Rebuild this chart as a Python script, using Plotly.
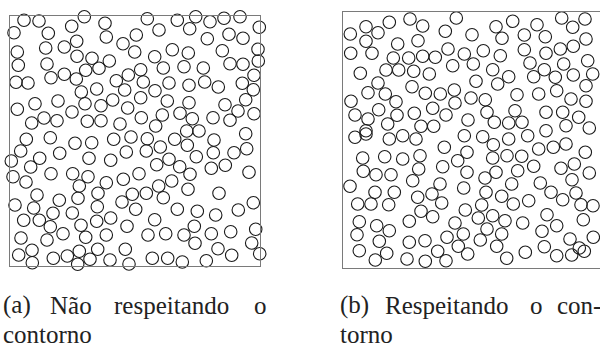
import plotly.graph_objects as go

# Circle centres (pixel units inside each square domain, y measured downward)
left_x = [14, 29, 74.3, 4, 61.7, 95, 38.3, 96.3, 126.3, 66.7, 54.3, 35.7, 113, 124.7, 7.3, 67, 82, 99.3,
          8.3, 37, 75.7, 89, 54.3, 41, 66.3, 118.3, 106.3, 6, 18, 86.7, 71.3, 114.7, 48, 25, 75, 91, 102.7,
          7.3, 62, 117.7, 34, 21.7, 47, 77.3, 91, 110,
          137.3, 167.3, 185.7, 200, 214, 230, 179.7, 149, 249.3, 197.3, 219, 233, 162.3, 178.3, 212.3, 248,
          144.7, 248.3, 220, 233, 130.7, 153.3, 174, 193.3, 244, 133.3, 159, 179, 194.7, 208.3, 232.3, 243.3,
          145, 130.7, 157.3, 179, 235.7, 215, 228, 244, 131.3, 152.3, 170, 182.3, 203, 220, 145.7, 176.7, 189,
          235.7,
          16.3, 40.3, 65, 81.7, 103.7, 121, 10.7, 1.3, 29.7, 49.7, 79, 100.7, 116.3, 20.7, 3, 16, 41, 62.7, 78,
          69.3, 96.3, 113.3, 27, 88, 122.3, 5, 23.7, 49.3, 68, 87.3, 112, 43, 62.3, 125.7, 13.7, 29.3, 40.3, 71,
          86.7, 100.7, 117, 53, 75.7, 96.3, 11, 37, 22, 8.7, 43.3, 57.3, 69.3, 87.7, 115.3, 22.3, 67.7, 80, 100,
          119,
          137.3, 164.7, 204, 136.3, 150.3, 177.3, 203.3, 224, 236.7, 186.3, 159, 146.7, 169.7, 201.3, 215.3, 129,
          180, 239, 161.7, 148.7, 178, 136.3, 153.3, 209, 243.3, 167.3, 187.3, 205.7, 228.3, 144.7, 184.3, 138,
          155.7, 174, 201.3, 220.7, 245.7, 185, 241.7, 208, 249.7, 142.3, 157.7, 172.3, 196.3, 221.7]
left_y = [4.3, 5, 0.7, 16.7, 10.3, 7.3, 17.3, 21, 19, 25.3, 31, 32, 27.7, 36, 36, 40.3, 42.3, 45,
          49.3, 48, 54.3, 52.3, 58.3, 61.7, 63, 59, 64.7, 66.3, 67, 73, 76, 74, 85, 87.7, 87.7, 89.7, 84,
          93.3, 96, 92, 102, 107, 104.7, 105.3, 104.7, 108,
          2.7, 4.3, 0.7, 5.7, 2.3, 0.7, 12.7, 14, 11.3, 22.7, 18.3, 22.3, 33.7, 37, 34.7, 33.3,
          40.7, 45, 47.7, 48.3, 53.7, 52, 50.7, 52, 59.3, 66, 67, 69.3, 66, 71, 67.3, 73.7,
          74.7, 81.7, 85, 86.7, 83.7, 88.7, 95, 97.7, 101.7, 99, 97.3, 102.7, 101.7, 104.3, 110, 115, 115,
          117.7,
          123.3, 121.7, 127.3, 126.7, 123.3, 121, 135, 145, 142.3, 137.3, 142.3, 144.3, 136, 151, 160.7, 166,
          157.7, 157.7, 160.7, 170, 166.7, 163.3, 179, 177.3, 178.3, 189, 192, 184.3, 182.3, 190.7, 186, 197.3,
          197, 193.3, 204.3, 204.3, 210.7, 209.3, 205.3, 202, 210.3, 217.7, 221.3, 219, 222, 224, 234.3, 239,
          242.3, 240, 235.3, 233.3, 233.3, 246.7, 248.3, 243.3, 244, 248,
          122.7, 123.3, 124, 135, 131, 129.3, 136.7, 136.7, 132.7, 140.7, 143.3, 148.7, 150.7, 152.3, 149.3,
          157.7, 158.3, 156.3, 165, 170, 173.3, 177.3, 181.7, 177.3, 186.7, 193.3, 195.3, 199, 194, 203.7,
          210.3, 219, 217.7, 219, 217.7, 215.7, 213.3, 227.3, 227, 232.7, 237.7, 242.3, 242.3, 246, 244.7,
          239.3]

right_x = [7.3, 23, 35, 46.3, 67, 79.7, 102.3, 113.3, 23, 7.7, 29, 54.7, 75, 105, 121.3, 50.3, 65.7, 79.7,
           92.3, 109.7, 17.3, 43, 55.7, 70.7, 86.3, 35, 25, 42.3, 69, 82.3, 97.3, 111.3, 8, 53, 112, 35.7,
           89.7, 71.3, 103, 12, 25, 54, 44.7, 78, 90.7, 125, 23,
           169.7, 153, 194, 218.7, 229.7, 242, 129, 159, 181.3, 202.3, 243, 230.3, 217.3, 140.3, 181.3, 203,
           157.3, 244.7, 130.3, 187, 220.7, 149.7, 201.3, 249.7, 165.7, 190.7, 212.3, 230.3, 133, 154.7, 243,
           174, 195.7, 213.7, 228, 243, 128, 142.3, 172, 203, 219.7, 144, 151.3, 165.7, 179, 235.7, 223,
           246.3, 203,
           12, 23, 46.3, 59.7, 73, 121.3, 101.3, 19.7, 41.7, 59.7, 77, 114.7, 124, 20.3, 33, 48, 75.7, 99.7,
           124, 7, 69.7, 97, 120.7, 32, 51.3, 74.7, 89, 14.7, 28, 45.7, 98.7, 78, 89.7, 122.3, 16.3, 33.7,
           66.3, 112, 46.3, 14, 120.3, 36.3, 66.3, 82, 104, 115.3, 16.3, 43.7, 94.7, 32.3, 64, 82.3, 103,
           124.7,
           139.7, 165.7, 184.7, 150.3, 195.7, 210.3, 223, 242.3, 149.7, 164, 178.7, 190.7, 218, 231.3, 246.3,
           153, 174.7, 142, 168.7, 197.3, 229, 143, 158.7, 208, 233, 170.3, 185.7, 219.7, 238, 250, 138.7,
           204, 149.7, 135.3, 162, 240.3, 179.7, 144, 213.7, 199, 158.7, 137.3, 227, 250.3, 153.7, 201.3,
           236.3, 182.3, 213.7, 228.7, 241.3, 163.7]
right_y = [22, 14.7, 20.7, 10.3, 7, 14, 19.3, 6, 29.3, 41.3, 41.3, 32, 28.7, 37, 42, 46, 46, 44.3,
           45.3, 53.7, 61.3, 58, 58, 59.3, 62, 71, 80.7, 82, 74.7, 81.3, 82, 78, 89.3, 89.7, 91, 97.7,
           96.3, 101.3, 103, 103, 107, 103.3, 112, 114.3, 114.3, 108, 118.7,
           9.3, 14.7, 12.7, 6, 15.3, 7, 22.7, 26.3, 23, 24.7, 27, 34.3, 37, 38.7, 37.7, 41.3,
           43.7, 48.7, 52, 51, 52, 57.7, 57.7, 62, 64.7, 64.7, 65.3, 63, 69.3, 72, 73.7,
           82.7, 82, 78.7, 87, 89.3, 86, 87.7, 98.7, 100.3, 100.3, 100.3, 110.3, 111, 110.3, 105.3, 113.7,
           116, 118.7,
           125.3, 122, 127, 123.7, 127, 123.7, 135.3, 146, 144.7, 147, 143.7, 148.7, 140.3, 159.3, 162.7,
           162.7, 157, 154.7, 160.3, 174.3, 168.7, 172, 176, 180.3, 180.3, 185.3, 182, 192, 192, 192.7, 191,
           199.3, 204.7, 198, 209.7, 213.7, 209.3, 211, 218.7, 222.7, 222, 229.3, 230.3, 228.7, 225.3, 234.3,
           238.7, 241.3, 239.3, 248, 247, 249.3, 248.7, 242,
           124.7, 127, 123.7, 132.7, 137, 135.3, 132, 140.3, 146, 143.7, 144.3, 154.3, 156.3, 152, 161,
           160.3, 158.7, 166, 172, 171, 167.7, 180.3, 184.3, 180.3, 181, 192, 188.7, 187.7, 192.7, 193.7, 193,
           202.7, 203.7, 206, 208.7, 207.7, 211, 217, 213.7, 219.3, 222, 228, 227, 225.3, 234.3, 234.7,
           236, 240.3, 243.7, 243, 239.3, 246.3]

# Caption words (justified lines): text, left x in px, baseline row
caption_words = ["(a)", "Não", "respeitando", "o", "contorno",
                 "(b)", "Respeitando", "o", "con-", "torno"]
caption_x = [2, 48.5, 112.5, 252.5, 2, 338.5, 384.3, 529.3, 556, 338.5]
caption_row = [0, 0, 0, 0, 1, 0, 0, 0, 0, 1]

W, H = 600, 345
ink = "#1a1a1a"
frame = "#7a7a7a"

fig = go.Figure()
marker = dict(symbol="circle-open", size=12.5, color=ink, line=dict(width=1.1, color=ink))
fig.add_trace(go.Scatter(x=left_x, y=left_y, mode="markers", marker=marker,
                         cliponaxis=False, hoverinfo="skip", xaxis="x", yaxis="y"))
fig.add_trace(go.Scatter(x=right_x, y=right_y, mode="markers", marker=marker,
                         cliponaxis=False, hoverinfo="skip", xaxis="x2", yaxis="y2"))

hidden = dict(showgrid=False, zeroline=False, showticklabels=False, ticks="")
fig.update_layout(
    width=W, height=H, margin=dict(l=0, r=0, t=0, b=0),
    paper_bgcolor="white", plot_bgcolor="white", showlegend=False,
    xaxis=dict(domain=[10 / W, 260 / W], range=[0, 250], showline=True, mirror=True,
               linecolor=frame, linewidth=1, **hidden),
    yaxis=dict(domain=[1 - 266 / H, 1 - 16 / H], range=[250, 0], showline=True, mirror=True,
               linecolor=frame, linewidth=1, **hidden),
    xaxis2=dict(domain=[343 / W, 1], range=[0, 257], showline=True, mirror=True,
                linecolor=frame, linewidth=1, anchor="y2", **hidden),
    yaxis2=dict(domain=[1 - 268 / H, 1 - 12 / H], range=[256, 0], showline=True, mirror=False,
                linecolor=frame, linewidth=1, anchor="x2", **hidden),
)

row_centre = [305, 334]
for word, px, row in zip(caption_words, caption_x, caption_row):
    fig.add_annotation(text=word, x=px / W, y=1 - row_centre[row] / H, xref="paper", yref="paper",
                       xanchor="left", yanchor="middle", showarrow=False, borderpad=0,
                       font=dict(family="Liberation Serif", size=25, color="#222"))

fig.write_html("out.html")
